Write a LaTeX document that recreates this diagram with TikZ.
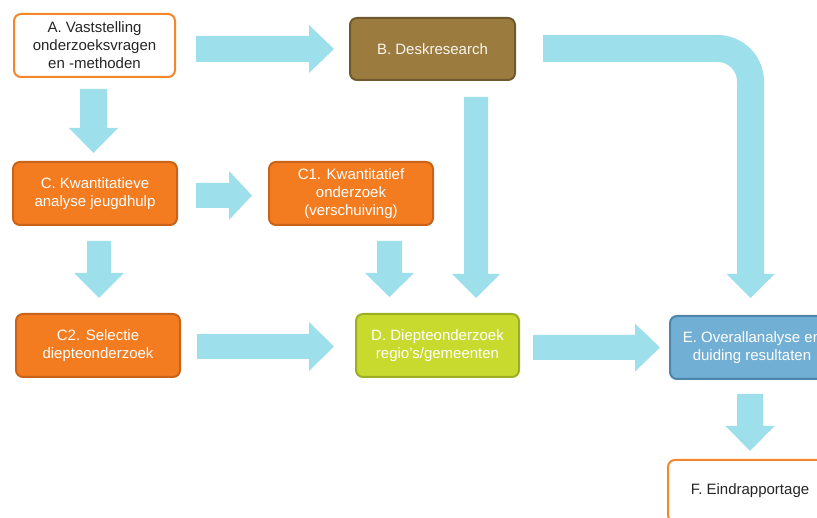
\documentclass[tikz,border=0pt]{standalone}
\usepackage{fontspec}
\setmainfont{Liberation Sans}
\usetikzlibrary{calc}
\definecolor{arrowc}{HTML}{9EDFEC}
\definecolor{orfill}{HTML}{F47C20}
\definecolor{ordraw}{HTML}{C9631A}
\definecolor{orline}{HTML}{F5862A}
\definecolor{brfill}{HTML}{9B7C3E}
\definecolor{brdraw}{HTML}{6E5A2C}
\definecolor{grfill}{HTML}{C9DA2F}
\definecolor{grdraw}{HTML}{9DAE24}
\definecolor{blfill}{HTML}{72AFD4}
\definecolor{bldraw}{HTML}{4E85AB}
\newcommand\harr[5]{\fill[arrowc] ($(#1)+(0,-#3)$) -- ($(#2)+(-#5,-#3)$) -- ($(#2)+(-#5,-#4)$) -- (#2) -- ($(#2)+(-#5,#4)$) -- ($(#2)+(-#5,#3)$) -- ($(#1)+(0,#3)$) -- cycle;}
\newcommand\varr[5]{\fill[arrowc] ($(#1)+(-#3,0)$) -- ($(#2)+(-#3,-#5)$) -- ($(#2)+(-#4,-#5)$) -- (#2) -- ($(#2)+(#4,-#5)$) -- ($(#2)+(#3,-#5)$) -- ($(#1)+(#3,0)$) -- cycle;}
\tikzset{
  box/.style={rectangle, rounded corners=7pt, line width=2pt, minimum width=164pt, minimum height=63pt, align=center, font=\fontsize{15}{18}\selectfont, inner sep=2pt},
  whitebox/.style={box, draw=orline, fill=white, text=black!85},
  orbox/.style={box, draw=ordraw, fill=orfill, text=white},
  brbox/.style={box, draw=brdraw, fill=brfill, text=white!92!brown},
  grbox/.style={box, draw=grdraw, fill=grfill, text=white},
  blbox/.style={box, draw=bldraw, fill=blfill, text=white}
}
\begin{document}
\begin{tikzpicture}[x=1pt,y=-1pt]
\useasboundingbox (0,0) rectangle (817,518);
\clip (0,0) rectangle (817,518);
\node[whitebox, minimum width=161pt] (A) at (94.5,45.5) {A. Vaststelling\\onderzoeksvragen\\en -methoden};
\node[brbox, minimum width=165pt, minimum height=62pt] (B) at (432.5,49) {B. Deskresearch};
\node[orbox] (C) at (95,193.5) {C. Kwantitatieve\\analyse jeugdhulp};
\node[orbox] (C1) at (351,193.5) {C1. Kwantitatief\\onderzoek\\(verschuiving)};
\node[orbox] (C2) at (98,345.5) {C2. Selectie\\diepteonderzoek};
\node[grbox, minimum width=163pt] (D) at (437.5,345.5) {D. Diepteonderzoek\\regio's/gemeenten};
\node[blbox] (E) at (752,347.5) {E. Overallanalyse en\\duiding resultaten};
\node[whitebox, minimum height=62pt] (F) at (750,491) {F. Eindrapportage};
% arrow end points
\coordinate (ab1) at ($(A.east)+(20,3.5)$);
\coordinate (ab2) at ($(B.west)+(-15,0)$);
\coordinate (ac1) at ($(A.south)+(-1,11)$);
\coordinate (ac2) at ($(C.north)+(-1.5,-8)$);
\coordinate (cc11) at ($(C.east)+(18,2)$);
\coordinate (cc12) at ($(C1.west)+(-16,2)$);
\coordinate (cc21) at ($(C.south)+(4,15)$);
\coordinate (cc22) at ($(C2.north)+(1,-15)$);
\coordinate (c1d1) at ($(C1.south)+(38.5,15)$);
\coordinate (c1d2) at ($(D.north)+(-48,-16)$);
\coordinate (bd1) at ($(B.south)+(43.5,16)$);
\coordinate (bd2) at ($(D.north)+(38.5,-15)$);
\coordinate (c2d1) at ($(C2.east)+(16,1)$);
\coordinate (c2d2) at ($(D.west)+(-21,1)$);
\coordinate (de1) at ($(D.east)+(13,2)$);
\coordinate (de2) at ($(E.west)+(-9,0)$);
\coordinate (ef1) at ($(E.south)+(-2,14)$);
\coordinate (ef2) at ($(F.north)+(0,-8)$);
\coordinate (be1) at ($(B.east)+(27,-0.5)$);
\coordinate (be2) at ($(E.north)+(-1.5,-17)$);
% arrows
\harr{ab1}{ab2}{13}{24}{25}
\varr{ac1}{ac2}{13.5}{24.5}{25}
\harr{cc11}{cc12}{12.5}{24.5}{23}
\varr{cc21}{cc22}{12}{25}{25}
\varr{c1d1}{c1d2}{12.5}{24.5}{24}
\varr{bd1}{bd2}{12}{24}{24}
\harr{c2d1}{c2d2}{12.5}{24.5}{25}
\harr{de1}{de2}{12.5}{24}{25}
\varr{ef1}{ef2}{13}{24.5}{25}
\draw[arrowc, line width=27pt, rounded corners=33pt] (be1) -- (be1 -| be2) -- ($(be2)+(0,-23.5)$);
\fill[arrowc] ($(be2)+(-24,-24)$) -- (be2) -- ($(be2)+(24,-24)$) -- cycle;
\end{tikzpicture}
\end{document}
